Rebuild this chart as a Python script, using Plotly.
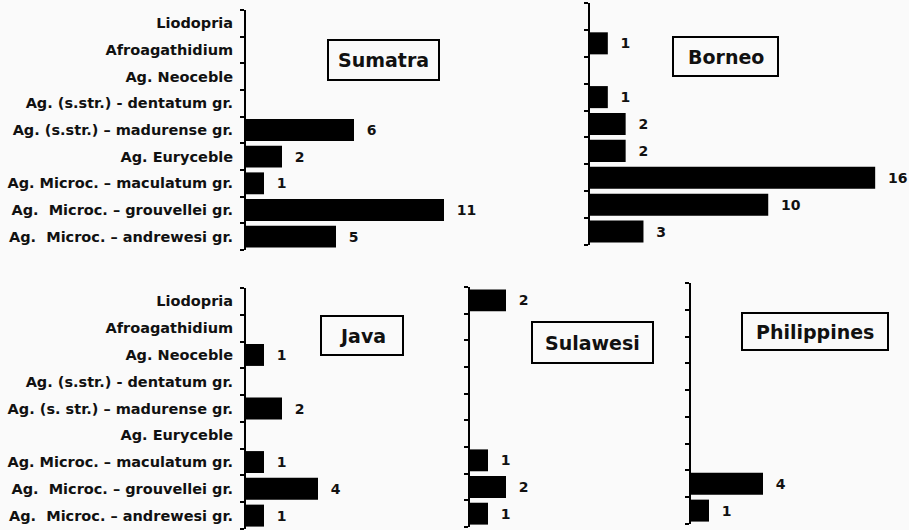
import plotly.graph_objects as go

categories = [
    "Liodopria",
    "Afroagathidium",
    "Ag. Neoceble",
    "Ag. (s.str.) - dentatum gr.",
    "Ag. (s.str.) – madurense gr.",
    "Ag. Euryceble",
    "Ag. Microc. – maculatum gr.",
    "Ag.\u00a0 Microc. – grouvellei gr.",
    "Ag.\u00a0 Microc. – andrewesi gr.",
]
java_labels = [
    "Liodopria",
    "Afroagathidium",
    "Ag. Neoceble",
    "Ag. (s.str.) - dentatum gr.",
    "Ag. (s. str.) – madurense gr.",
    "Ag. Euryceble",
    "Ag. Microc. – maculatum gr.",
    "Ag.\u00a0 Microc. – grouvellei gr.",
    "Ag.\u00a0 Microc. – andrewesi gr.",
]

sumatra = [0, 0, 0, 0, 6, 2, 1, 11, 5]
borneo = [0, 1, 0, 1, 2, 2, 16, 10, 3]
java = [0, 0, 1, 0, 2, 0, 1, 4, 1]
sulawesi = [2, 0, 0, 0, 0, 0, 1, 2, 1]
philippines = [0, 0, 0, 0, 0, 0, 0, 4, 1]

regions = ["Sumatra", "Borneo", "Java", "Sulawesi", "Philippines"]
series = [sumatra, borneo, java, sulawesi, philippines]

W, H = 909, 530
FONT = "DejaVu Sans"
INK = "#111111"

# panel geometry in pixels: (x0, x1, xmax, ytop, ybottom)
panels = [
    (246, 480, 13, 10, 250),
    (590, 893, 17, 3, 245),
    (246, 480, 13, 288, 529),
    (470, 650, 10, 287, 527),
    (691, 871, 10, 283, 524),
]
# title boxes: (x0, y0, x1, y1)
boxes = [
    (328, 40, 439, 80),
    (673, 37, 778, 76),
    (321, 316, 403, 355),
    (532, 322, 653, 363),
    (742, 313, 888, 350),
]

fig = go.Figure()
layout = dict(
    width=W, height=H,
    margin=dict(l=0, r=0, t=0, b=0),
    paper_bgcolor="#fafafa", plot_bgcolor="#fafafa",
    showlegend=False,
    bargap=0.18,
    shapes=[], annotations=[],
)

for i, (name, vals) in enumerate(zip(regions, series)):
    n = "" if i == 0 else str(i + 1)
    x0, x1, xmax, yt, yb = panels[i]
    fig.add_trace(go.Bar(
        y=categories, x=vals, orientation="h",
        marker=dict(color="#000000", line=dict(width=0)),
        text=["\u00a0\u00a0" + str(v) if v else "" for v in vals],
        textposition="outside", cliponaxis=False, constraintext="none",
        textfont=dict(family=FONT, size=14, color=INK, weight="bold"),
        xaxis="x" + n, yaxis="y" + n,
        hoverinfo="x+y",
    ))
    show_labels = i in (0, 2)
    layout["xaxis" + n] = dict(
        domain=[x0 / W, x1 / W], range=[0, xmax], visible=False,
        anchor="y" + n, fixedrange=True,
    )
    layout["yaxis" + n] = dict(
        domain=[1 - yb / H, 1 - yt / H], anchor="x" + n,
        type="category", categoryorder="array", categoryarray=categories,
        autorange="reversed",
        showline=True, linecolor="#000000", linewidth=2,
        ticks="outside", ticklen=4, tickwidth=1.5, tickcolor="#000000",
        tickson="boundaries",
        showgrid=False, zeroline=False,
        showticklabels=show_labels,
        tickmode="array", tickvals=categories,
        ticktext=(java_labels if i == 2 else categories),
        tickfont=dict(family=FONT, size=14.5, color=INK, weight="bold"),
        ticklabelstandoff=8,
        fixedrange=True,
    )
    bx0, by0, bx1, by1 = boxes[i]
    layout["shapes"].append(dict(
        type="rect", xref="paper", yref="paper",
        x0=bx0 / W, x1=bx1 / W, y0=1 - by1 / H, y1=1 - by0 / H,
        line=dict(color="#000000", width=2), fillcolor="rgba(0,0,0,0)",
    ))
    layout["annotations"].append(dict(
        xref="paper", yref="paper",
        x=(bx0 + bx1) / 2 / W, y=1 - (by0 + by1) / 2 / H,
        text="<b>" + name + "</b>", showarrow=False,
        xanchor="center", yanchor="middle",
        font=dict(family=FONT, size=19, color=INK),
    ))

fig.update_layout(**layout)
fig.write_html(
    "out.html",
    config={"displayModeBar": False},
    post_script="document.body.style.margin='0';document.body.style.background='#fafafa';",
)
